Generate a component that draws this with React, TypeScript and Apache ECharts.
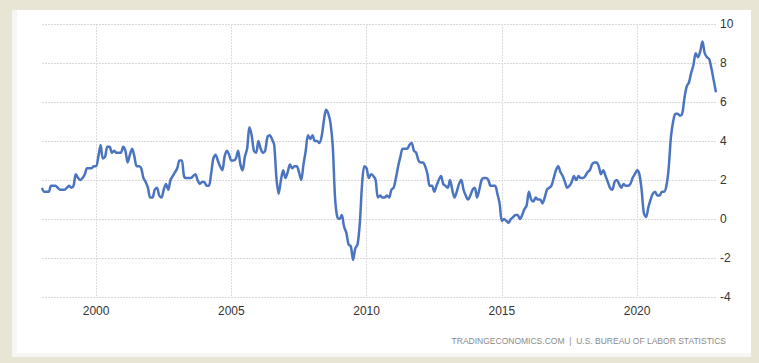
import React, { useEffect, useRef } from "react";
import * as echarts from "echarts";

const years = [1998, 1999, 2000, 2001, 2002, 2003, 2004, 2005, 2006, 2007, 2008, 2009, 2010, 2011, 2012, 2013, 2014, 2015, 2016, 2017, 2018, 2019, 2020, 2021, 2022];

const inflation: number[][] = [
  [1.6, 1.4, 1.4, 1.4, 1.7, 1.7, 1.7, 1.6, 1.5, 1.5, 1.5, 1.6],
  [1.7, 1.6, 1.7, 2.3, 2.1, 2.0, 2.1, 2.3, 2.6, 2.6, 2.6, 2.7],
  [2.7, 3.2, 3.8, 3.1, 3.2, 3.7, 3.7, 3.4, 3.5, 3.4, 3.4, 3.4],
  [3.7, 3.5, 2.9, 3.3, 3.6, 3.2, 2.7, 2.7, 2.6, 2.1, 1.9, 1.6],
  [1.1, 1.1, 1.5, 1.6, 1.2, 1.1, 1.5, 1.8, 1.5, 2.0, 2.2, 2.4],
  [2.6, 3.0, 3.0, 2.2, 2.1, 2.1, 2.1, 2.2, 2.3, 2.0, 1.8, 1.9],
  [1.9, 1.7, 1.7, 2.3, 3.1, 3.3, 3.0, 2.7, 2.5, 3.2, 3.5, 3.3],
  [3.0, 3.0, 3.1, 3.5, 2.8, 2.5, 3.2, 3.6, 4.7, 4.3, 3.5, 3.4],
  [4.0, 3.6, 3.4, 3.5, 4.2, 4.3, 4.1, 3.8, 2.1, 1.3, 2.0, 2.5],
  [2.1, 2.4, 2.8, 2.6, 2.7, 2.7, 2.4, 2.0, 2.8, 3.5, 4.3, 4.1],
  [4.3, 4.0, 4.0, 3.9, 4.2, 5.0, 5.6, 5.4, 4.9, 3.7, 1.1, 0.1],
  [0.0, 0.2, -0.4, -0.7, -1.3, -1.4, -2.1, -1.5, -1.3, -0.2, 1.8, 2.7],
  [2.6, 2.1, 2.3, 2.2, 2.0, 1.1, 1.2, 1.1, 1.1, 1.2, 1.1, 1.5],
  [1.6, 2.1, 2.7, 3.2, 3.6, 3.6, 3.6, 3.8, 3.9, 3.5, 3.4, 3.0],
  [2.9, 2.9, 2.7, 2.3, 1.7, 1.7, 1.4, 1.7, 2.0, 2.2, 1.8, 1.7],
  [1.6, 2.0, 1.5, 1.1, 1.4, 1.8, 2.0, 1.5, 1.2, 1.0, 1.2, 1.5],
  [1.6, 1.1, 1.5, 2.0, 2.1, 2.1, 2.0, 1.7, 1.7, 1.7, 1.3, 0.8],
  [-0.1, 0.0, -0.1, -0.2, 0.0, 0.1, 0.2, 0.2, 0.0, 0.2, 0.5, 0.7],
  [1.4, 1.0, 0.9, 1.1, 1.0, 1.0, 0.8, 1.1, 1.5, 1.6, 1.7, 2.1],
  [2.5, 2.7, 2.4, 2.2, 1.9, 1.6, 1.7, 1.9, 2.2, 2.0, 2.2, 2.1],
  [2.1, 2.2, 2.4, 2.5, 2.8, 2.9, 2.9, 2.7, 2.3, 2.5, 2.2, 1.9],
  [1.6, 1.5, 1.9, 2.0, 1.8, 1.6, 1.8, 1.7, 1.7, 1.8, 2.1, 2.3],
  [2.5, 2.3, 1.5, 0.3, 0.1, 0.6, 1.0, 1.3, 1.4, 1.2, 1.2, 1.4],
  [1.4, 1.7, 2.6, 4.2, 5.0, 5.4, 5.4, 5.3, 5.4, 6.2, 6.8, 7.0],
  [7.5, 7.9, 8.5, 8.3, 8.6, 9.1, 8.5, 8.3, 8.2, 7.7, 7.1, 6.5],
];

const labelYears = [2000, 2005, 2010, 2015, 2020];
const yTicks = { min: -4, max: 10, interval: 2 };
const sourceText = "TRADINGECONOMICS.COM  |  U.S. BUREAU OF LABOR STATISTICS";

export default function App() {
  const ref = useRef<HTMLDivElement>(null);
  useEffect(() => {
    if (!ref.current) return;
    const chart = echarts.init(ref.current, undefined, { renderer: "svg" });
    const categories: string[] = [];
    const values: number[] = [];
    years.forEach((y, i) => {
      inflation[i].forEach((v, m) => {
        categories.push(`${y}-${m + 1}`);
        values.push(v);
      });
    });
    const isLabel = (idx: number) => {
      const [y, m] = categories[idx].split("-").map(Number);
      return m === 1 && labelYears.includes(y);
    };
    chart.setOption({
      animation: false,
      backgroundColor: "#e8e5d5",
      graphic: [
        { type: "rect", shape: { x: 12, y: 10, width: 739, height: 347 }, style: { fill: "#f6f6f2" }, z: -10 },
        { type: "rect", shape: { x: 17, y: 10, width: 734, height: 343 }, style: { fill: "#ffffff" }, z: -9 },
        {
          type: "text",
          right: 33,
          top: 336,
          style: {
            text: sourceText,
            fill: "#8a8a8a",
            font: "8.5px 'Liberation Sans', Arial, sans-serif",
          },
        },
      ],
      grid: { left: 42, right: 43, top: 24, bottom: 66, containLabel: false },
      xAxis: {
        type: "category",
        data: categories,
        boundaryGap: false,
        axisLine: { show: false },
        axisTick: { show: false },
        axisLabel: {
          interval: (idx: number) => isLabel(idx),
          formatter: (v: string) => v.split("-")[0],
          color: "#333",
          fontSize: 12,
          fontFamily: "'Liberation Sans', Arial, sans-serif",
          margin: 8,
        },
        splitLine: {
          show: true,
          interval: (idx: number) => isLabel(idx),
          lineStyle: { color: "#dcdcdc", type: [2, 1], width: 1 },
        },
      },
      yAxis: {
        type: "value",
        position: "right",
        min: yTicks.min,
        max: yTicks.max,
        interval: yTicks.interval,
        axisLine: { show: false },
        axisTick: { show: false },
        axisLabel: {
          color: "#333",
          fontSize: 12,
          fontFamily: "'Liberation Sans', Arial, sans-serif",
          margin: 4,
        },
        splitLine: { lineStyle: { color: "#d8d8d8", type: [2, 1], width: 1 } },
      },
      series: [
        {
          type: "line",
          data: values,
          showSymbol: false,
          smooth: 0.3,
          lineStyle: { color: "#4a74c0", width: 2.5 },
        },
      ],
    });
    return () => chart.dispose();
  }, []);
  return (
    <div
      ref={ref}
      style={{ position: "fixed", left: 0, top: 0, width: 759, height: 363 }}
    />
  );
}
